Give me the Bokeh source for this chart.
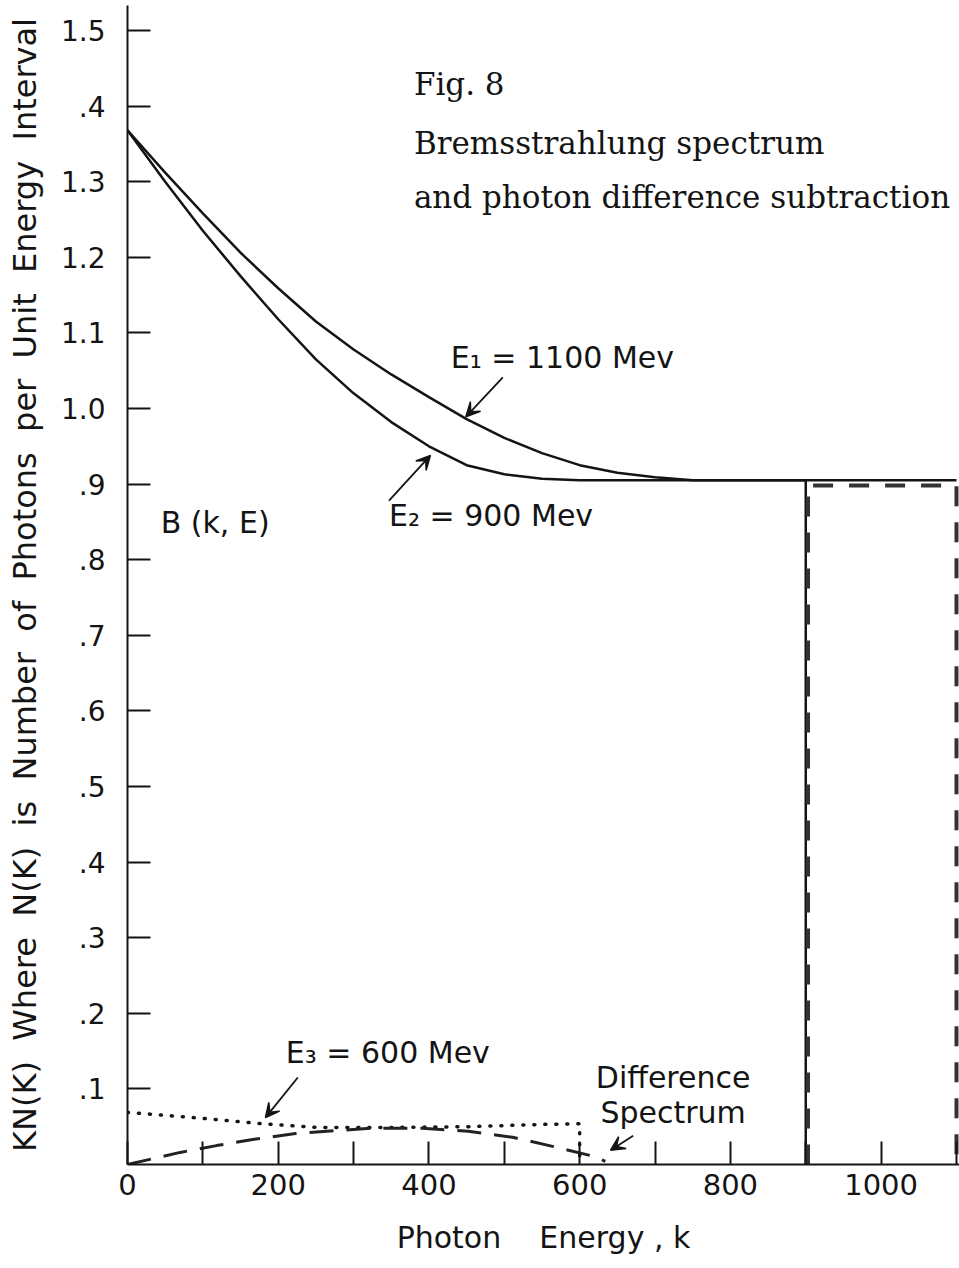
from bokeh.plotting import figure
from bokeh.models import FixedTicker, Arrow, VeeHead, Range1d, ColumnDataSource
from bokeh.core.properties import value
from bokeh.embed import file_html
from bokeh.resources import INLINE

# ---- data ----
# E1 = 1100 MeV bremsstrahlung spectrum (solid)
k_e1 = [0, 50, 100, 150, 200, 250, 300, 350, 400, 450, 500, 550, 600, 650, 700, 750, 800, 900, 1000, 1100]
b_e1 = [1.368, 1.312, 1.258, 1.206, 1.159, 1.115, 1.078, 1.045, 1.015, 0.986, 0.961, 0.941, 0.925,
        0.915, 0.909, 0.905, 0.905, 0.905, 0.905, 0.905]
# E2 = 900 MeV spectrum (solid, ends with drop at 900)
k_e2 = [0, 50, 100, 150, 200, 250, 300, 350, 400, 450, 500, 550, 600, 700, 800, 900, 900]
b_e2 = [1.368, 1.300, 1.235, 1.175, 1.118, 1.065, 1.020, 0.982, 0.950, 0.925, 0.913, 0.907, 0.905,
        0.905, 0.905, 0.905, 0.0]
# difference region between 900 and 1100 (dashed box)
k_box = [903, 903, 1100, 1100]
b_box = [0.0, 0.898, 0.898, 0.0]
# E3 = 600 MeV (dotted)
k_e3 = [0, 100, 178, 253, 350, 450, 550, 600, 600]
b_e3 = [0.069, 0.061, 0.054, 0.049, 0.049, 0.050, 0.053, 0.054, 0.0]
# Difference spectrum (long dashes)
k_diff = [0, 70, 118, 166, 223, 280, 323, 391, 452, 511, 564, 618, 634]
b_diff = [0.0, 0.016, 0.025, 0.033, 0.041, 0.045, 0.048, 0.048, 0.044, 0.036, 0.024, 0.011, 0.004]

# axis ticks
x_ticks = [0, 100, 200, 300, 400, 500, 600, 700, 800, 900, 1000, 1100]
x_tick_labels = ["0", "", "200", "", "400", "", "600", "", "800", "", "1000", ""]
y_ticks = [0.1, 0.2, 0.3, 0.4, 0.5, 0.6, 0.7, 0.8, 0.9, 1.0, 1.1, 1.2, 1.3, 1.4, 1.5]
y_tick_labels = [".1", ".2", ".3", ".4", ".5", ".6", ".7", ".8", ".9", "1.0", "1.1", "1.2", "1.3", ".4", "1.5"]

NB = "\u00a0"
x_title = "Photon" + NB * 3 + " Energy , k"
y_words = ["KN(K)", "Where", "N(K)", "is", "Number", "of", "Photons", "per", "Unit", "Energy", "Interval"]
y_title = (NB + " ").join(y_words)

# annotations
lab_x = [429, 347, 210, 44]
lab_y = [1.067, 0.858, 0.148, 0.849]
lab_t = ["E\u2081 = 1100 Mev", "E\u2082 = 900 Mev", "E\u2083 = 600 Mev", "B (k, E)"]
diff_x = [724, 724]
diff_y = [0.115, 0.069]
diff_t = ["Difference", "Spectrum"]
title_x = [380, 380, 380]
title_y = [1.429, 1.351, 1.280]
title_t = ["Fig. 8", "Bremsstrahlung spectrum", "and photon difference subtraction"]
arr_x0 = [498, 347, 226, 671]
arr_y0 = [1.041, 0.878, 0.115, 0.038]
arr_x1 = [449, 402, 183, 641]
arr_y1 = [0.989, 0.938, 0.062, 0.019]

INK = "#141414"
SANS = "DejaVu Sans"

p = figure(width=959, height=1268, x_range=Range1d(0, 1104), y_range=Range1d(0, 1.533),
           output_backend="svg", toolbar_location=None,
           min_border_left=127, min_border_right=0, min_border_top=5, min_border_bottom=104)
p.grid.visible = False
p.outline_line_color = None
p.background_fill_color = "white"
p.border_fill_color = "white"

for ax in (p.xaxis[0], p.yaxis[0]):
    ax.major_tick_in = 23
    ax.major_tick_out = 0
    ax.minor_tick_line_color = None
    ax.axis_line_width = 2
    ax.axis_line_color = INK
    ax.major_tick_line_width = 2
    ax.major_tick_line_color = INK
    ax.major_label_text_font = SANS
    ax.major_label_text_color = INK
    ax.axis_label_text_font = SANS
    ax.axis_label_text_font_style = "normal"
    ax.axis_label_text_color = INK

p.xaxis.ticker = FixedTicker(ticks=x_ticks)
p.xaxis.major_label_overrides = dict(zip(x_ticks, x_tick_labels))
p.xaxis.major_label_standoff = 9
p.xaxis.major_label_text_font_size = "29px"
p.xaxis.axis_label = x_title
p.xaxis.axis_label_text_font_size = "30px"
p.xaxis.axis_label_standoff = 22

p.yaxis.ticker = FixedTicker(ticks=y_ticks)
p.yaxis.major_label_overrides = dict(zip(y_ticks, y_tick_labels))
p.yaxis.major_label_standoff = 22
p.yaxis.major_label_text_font_size = "28px"
p.yaxis.axis_label = y_title
p.yaxis.axis_label_text_font_size = "32px"
p.yaxis.axis_label_standoff = 14

# curves
p.line(k_e1, b_e1, line_color=INK, line_width=2.5)
p.line(k_e2, b_e2, line_color=INK, line_width=2.5)
p.line(k_box, b_box, line_color="#333333", line_width=4, line_dash="20 16")
p.line(k_e3, b_e3, line_color=INK, line_width=3.5, line_dash="1 10", line_cap="round")
p.line(k_diff, b_diff, line_color="#222222", line_width=3, line_dash="24 13")

# arrows
src = ColumnDataSource(dict(x0=arr_x0, y0=arr_y0, x1=arr_x1, y1=arr_y1))
p.add_layout(Arrow(end=VeeHead(size=14, fill_color=INK, line_color=INK, line_width=1.5),
                   x_start="x0", y_start="y0", x_end="x1", y_end="y1", source=src,
                   line_color=INK, line_width=1.8))

# texts
p.text(lab_x, lab_y, text=lab_t, text_font=value(SANS), text_font_size="30px",
       text_baseline="middle", text_align="left", text_color=INK)
p.text(diff_x, diff_y, text=diff_t, text_font=value(SANS), text_font_size="30px",
       text_baseline="middle", text_align="center", text_color=INK)
p.text(title_x, title_y, text=title_t, text_font=value("DejaVu Serif"), text_font_size="31px",
       text_baseline="middle", text_align="left", text_color=INK)

open("out.html", "w").write(file_html(p, INLINE))
